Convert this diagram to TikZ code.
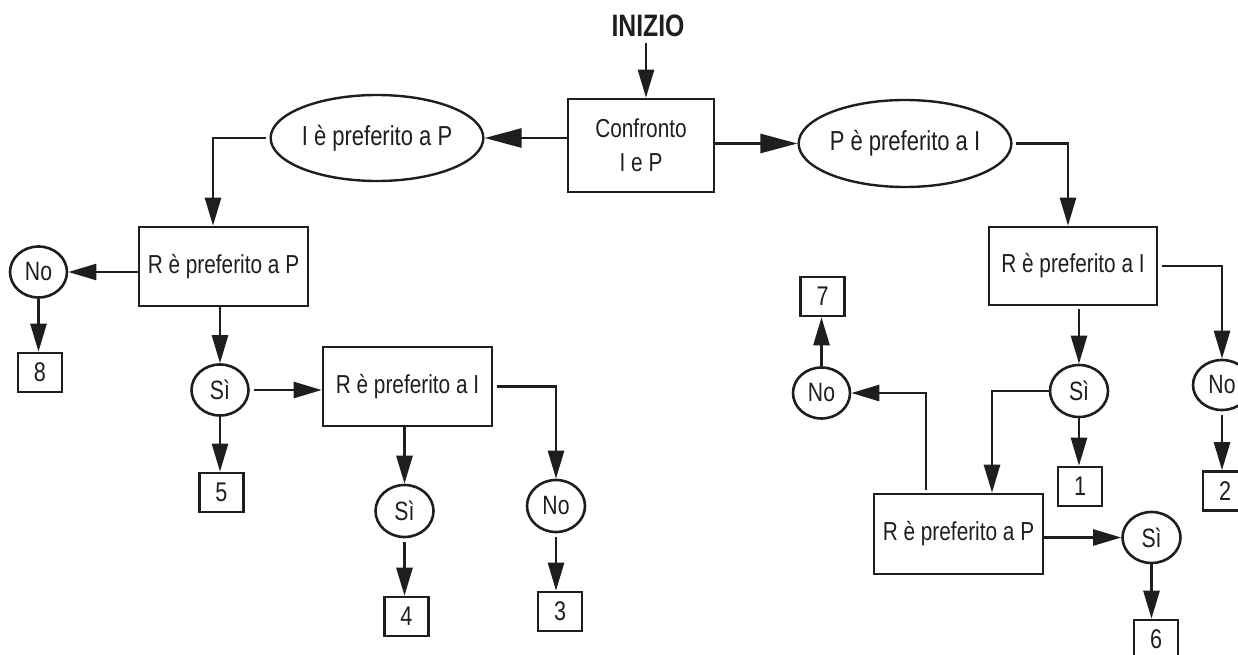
\documentclass[tikz,border=0pt]{standalone}
\usepackage{fontspec}
\setmainfont{Liberation Sans}[FakeStretch=0.8]
\usetikzlibrary{shapes.geometric,arrows.meta}
\definecolor{ink}{HTML}{1E1E1E}
\begin{document}
\begin{tikzpicture}[x=1pt,y=-1pt,
  every node/.style={inner sep=0pt,text=ink},
  basefont/.style={font=\fontsize{26}{34}\selectfont},
  bigbox/.style={draw=ink,line width=2.6pt,rectangle,minimum width=169pt,minimum height=79pt,basefont},
  ovalbig/.style={draw=ink,line width=2.4pt,ellipse,minimum width=202pt,minimum height=86pt,font=\fontsize{27.5}{30}\selectfont},
  ans/.style={draw=ink,line width=2.6pt,ellipse,minimum width=57pt,minimum height=51pt,font=\fontsize{26.5}{30}\selectfont},
  numbox/.style={draw=ink,line width=2.6pt,rectangle,minimum width=44pt,minimum height=39pt,font=\fontsize{27}{30}\selectfont},
  arr/.style={draw=ink,line width=2.6pt,-{Triangle[length=28pt,width=16pt]}},
  bigarr/.style={draw=ink,line width=2.6pt,-{Triangle[length=37pt,width=19pt]}}
]
\useasboundingbox (0,0) rectangle (1238,655);
\clip (0,0) rectangle (1238,655);
% top
\node[font=\fontsize{31}{32}\selectfont\bfseries] (iniz) at (648,26) {INIZIO};
\node[bigbox,minimum width=146pt,minimum height=93pt,align=center] (conf) at (641,145.5) {Confronto\\I e P};
\node[ovalbig] (ellL) at (377,138) {I è preferito a P};
\node[ovalbig,minimum width=200pt,minimum height=87pt] (ellR) at (905,143.5) {P è preferito a I};
% left branch
\node[bigbox] (boxL) at (223.5,266.5) {R è preferito a P};
\node[ans] (noL) at (38.5,272) {No};
\node[numbox] (b8) at (40,372.5) {8};
\node[ans] (siL) at (220,390) {Sì};
\node[numbox] (b5) at (221.5,492.5) {5};
\node[bigbox] (boxM) at (407.5,386.5) {R è preferito a I};
\node[ans,minimum width=58pt,minimum height=52pt] (siM) at (404.5,511) {Sì};
\node[numbox] (b4) at (406.5,616.5) {4};
\node[ans,minimum width=58pt,minimum height=52pt] (noM) at (556,506) {No};
\node[numbox] (b3) at (560,611.5) {3};
% right branch
\node[bigbox,minimum width=168pt,minimum height=78pt] (boxR) at (1073,266) {R è preferito a I};
\node[ans,minimum width=58pt,minimum height=52pt] (siR) at (1079,391) {Sì};
\node[numbox] (b1) at (1080,486.5) {1};
\node[ans,minimum width=58pt,minimum height=50pt] (noR) at (1222,385) {No};
\node[numbox] (b2) at (1225,491) {2};
\node[bigbox,minimum height=80pt] (boxP) at (958.5,534) {R è preferito a P};
\node[ans] (no7) at (821.5,393) {No};
\node[numbox] (b7) at (822.5,296.5) {7};
\node[ans,minimum width=58pt,minimum height=51pt] (siP) at (1151.5,537.5) {Sì};
\node[numbox] (b6) at (1156,639.5) {6};
% connectors
\draw[arr] ([yshift=-6pt]iniz.south -| 646,0) -- (conf.north -| 646,0);
\draw[bigarr] (conf.west |- ellL) -- (ellL.east);
\draw[bigarr] (conf.east |- ellR) -- (ellR.west);
\draw[arr] ([xshift=-3pt]ellL.west) -| ([xshift=-10.5pt]boxL.north);
\draw[arr] ([xshift=3pt]ellR.east) -| ([xshift=-5pt]boxR.north);
\draw[arr] (boxL.west |- noL) -- (noL.east);
\draw[arr] (noL.south) -- (noL.south |- b8.north);
\draw[arr] (boxL.south -| siL) -- (siL.north);
\draw[arr] ([xshift=4pt]siL.east) -- (siL.east -| boxM.west);
\draw[arr] (siL.south) -- (siL.south |- b5.north);
\draw[arr] (boxM.south -| siM) -- (siM.north);
\draw[arr] ([yshift=-4pt]siM.south) -- (siM.south |- b4.north);
\draw[arr] ([xshift=4pt]boxM.east) -| (noM.north);
\draw[arr] ([yshift=-4pt]noM.south) -- (noM.south |- b3.north);
\draw[arr] ([xshift=4pt]boxR.east) -| (noR.north);
\draw[arr] ([yshift=-4pt]noR.south) -- (noR.south |- b2.north);
\draw[arr] ([yshift=-3pt]boxR.south -| siR) -- (siR.north);
\draw[arr] (siR.south) -- (siR.south |- b1.north);
\draw[arr] (siR.west) -| ([xshift=33.5pt]boxP.north);
\draw[arr] ([xshift=-32.5pt,yshift=3pt]boxP.north) |- (no7.east);
\draw[arr] (no7.north) -- (no7.north |- b7.south);
\draw[arr] (boxP.east |- siP) -- (siP.west);
\draw[arr] (siP.south) -- (siP.south |- b6.north);
\end{tikzpicture}
\end{document}
